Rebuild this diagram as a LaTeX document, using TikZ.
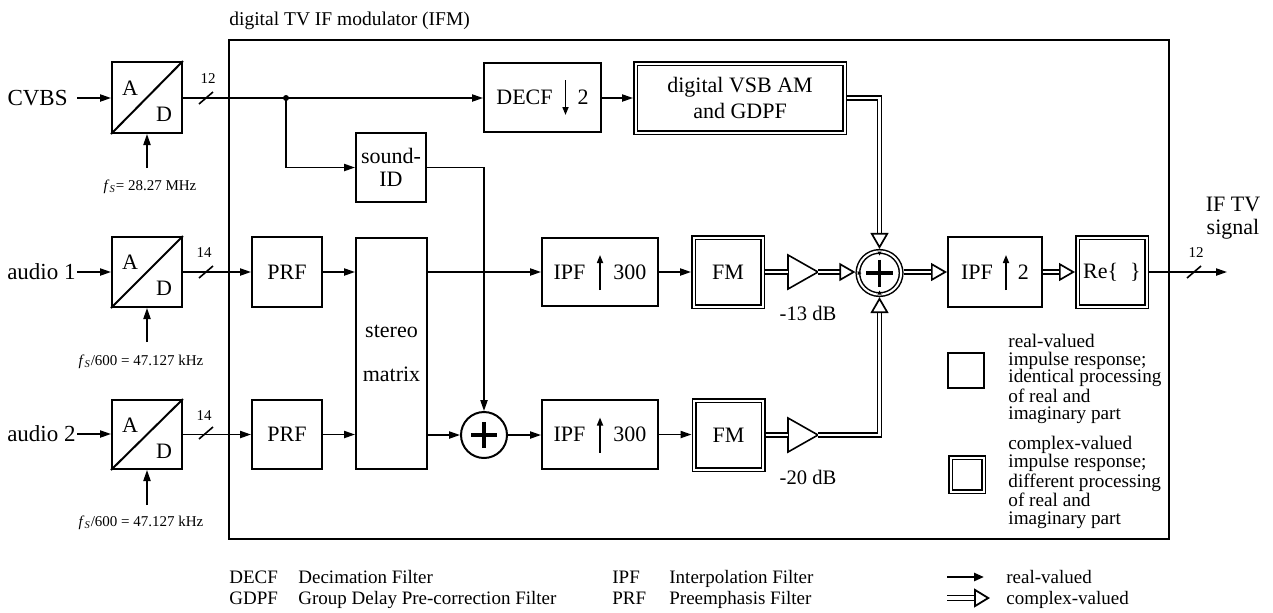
\documentclass[tikz,border=0pt]{standalone}
\usepackage{fontspec}
\setmainfont{Liberation Serif}
\usetikzlibrary{arrows.meta,calc}
\begin{document}
\begin{tikzpicture}[x=0.5pt,y=-0.5pt,
  blk/.style={draw,line width=1pt,inner sep=0pt,align=center,font=\fontsize{11}{13}\selectfont},
  dblk/.style={blk,double,double distance=1pt,line width=0.75pt,outer sep=1.25pt},
  sig/.style={line width=0.8pt,-{Triangle[length=5.5pt,width=3.6pt]}},
  plainline/.style={line width=0.8pt},
  cplx/.style={double,double distance=1.4pt,line width=0.75pt,-{Triangle[open,length=8pt,width=9pt,line width=0.85pt]}},
  cplxline/.style={double,double distance=1.4pt,line width=0.75pt},
  upar/.style={line width=0.8pt,-{Triangle[length=4pt,width=3pt]}},
  lab/.style={inner sep=0pt,font=\fontsize{11.5}{13}\selectfont},
  small/.style={inner sep=0pt,font=\fontsize{7.5}{9}\selectfont},
  legtxt/.style={inner sep=0pt,anchor=west,align=left,font=\fontsize{9.6}{8.75}\selectfont},
  bottxt/.style={inner sep=0pt,anchor=base west,font=\fontsize{9.5}{11}\selectfont},
  plus/.style={line width=1.6pt}
]
\useasboundingbox[fill=white] (0,0) rectangle (1273,612);

% outer box and title
\node[draw,line width=1pt,minimum width=470pt,minimum height=249.5pt,inner sep=0pt] (ifm) at (699,289.5) {};
\node[anchor=base west,inner sep=0pt,font=\fontsize{9.75}{11}\selectfont] (title) at (229,25) {digital TV IF modulator (IFM)};

% A/D converters
\node[blk,minimum width=35pt,minimum height=35.5pt] (ad1) at (147,97.5) {};
\node[blk,minimum width=35pt,minimum height=35pt] (ad2) at (147,272) {};
\node[blk,minimum width=35pt,minimum height=34.5pt] (ad3) at (147,434.5) {};
\foreach \n in {ad1,ad2,ad3}{
  \draw[line width=1pt] (\n.south west) -- (\n.north east);
  \node[blk,draw=none] (\n A) at ($(\n.center)+(-17,-9.5)$) {A};
  \node[blk,draw=none] (\n D) at ($(\n.center)+(17,16.5)$) {D};
}

% inputs
\node[lab,anchor=east,inner sep=4.5pt] (cvbs) at (77,98) {CVBS};
\node[lab,anchor=east,inner sep=0.5pt] (aud1) at (77,272) {audio 1};
\node[lab,anchor=east,inner sep=0.5pt] (aud2) at (77,434) {audio 2};
\draw[sig] (cvbs.east) -- (cvbs.east -| ad1.west);
\draw[sig] (aud1.east) -- (aud1.east -| ad2.west);
\draw[sig] (aud2.east) -- (aud2.east -| ad3.west);

% clocks
\coordinate (clk1) at (147,168);
\coordinate (clk2) at (147,342);
\coordinate (clk3) at (147,505);
\draw[sig] (clk1) -- (ad1.south);
\draw[sig] (clk2) -- (ad2.south);
\draw[sig] (clk3) -- (ad3.south);
\node[small] (fs1) at (150,187) {\textit{f}\textsubscript{\textit{S}}= 28.27 MHz};
\node[small] (fs2) at (141,362) {\textit{f}\textsubscript{\textit{S}}/600 = 47.127 kHz};
\node[small] (fs3) at (141,523) {\textit{f}\textsubscript{\textit{S}}/600 = 47.127 kHz};

% blocks
\node[blk,minimum width=58.5pt,minimum height=34.5pt] (decf) at (542.5,97.5) {DECF\hspace{12.5pt}2};
\node[dblk,minimum width=104.5pt,minimum height=34.5pt,font=\fontsize{11}{13}\selectfont] (vsb) at (740,98) {digital VSB AM\\and GDPF};
\node[blk,minimum width=35pt,minimum height=34.5pt,font=\fontsize{11}{11.5}\selectfont] (sid) at (391,167.5) {sound-\\ID};
\node[blk,minimum width=35pt,minimum height=35pt] (prf1) at (287,272) {PRF};
\node[blk,minimum width=35pt,minimum height=34.5pt] (prf2) at (287,434.5) {PRF};
\node[blk,minimum width=35.5pt,minimum height=115.5pt] (stm) at (391.5,353.5) {stereo\\[9pt]matrix};
\node[circle,draw,line width=1pt,minimum size=23pt,inner sep=0pt] (sum2) at (484,435) {};
\node[blk,minimum width=58pt,minimum height=34pt] (ipf1) at (600,272) {IPF\hspace{14pt}300};
\node[blk,minimum width=58pt,minimum height=34.5pt] (ipf2) at (600,434.5) {IPF\hspace{14pt}300};
\node[dblk,minimum width=34.5pt,minimum height=34.5pt] (fm1) at (728,272) {FM};
\node[dblk,minimum width=34.5pt,minimum height=34.5pt] (fm2) at (728.5,435) {FM};
\node[circle,draw,double,double distance=1pt,line width=0.75pt,minimum size=21.6pt,inner sep=0pt,outer sep=1.25pt] (sum1) at (879.5,273) {};
\node[blk,minimum width=47pt,minimum height=35pt] (ipf3) at (995,272) {IPF\hspace{12.5pt}2};
\node[dblk,minimum width=34.5pt,minimum height=34.5pt] (re) at (1112,272) {Re\{\hspace{6pt}\}};

% arrows inside filter blocks
\draw[upar] ($(decf.center)+(23,-17.5)$) -- ($(decf.center)+(23,17.5)$);
\draw[upar] ($(ipf1.center)+(0,18)$) -- ($(ipf1.center)+(0,-17)$);
\draw[upar] ($(ipf2.center)+(0,18)$) -- ($(ipf2.center)+(0,-17)$);
\draw[upar] ($(ipf3.center)+(11,18)$) -- ($(ipf3.center)+(11,-17)$);

% plus signs
\draw[plus] ($(sum2)+(-13,0)$) -- ($(sum2)+(13,0)$);
\draw[plus] ($(sum2)+(0,-13)$) -- ($(sum2)+(0,13)$);
\draw[plus] ($(sum1)+(-13.5,0)$) -- ($(sum1)+(13.5,0)$);
\draw[plus] ($(sum1)+(0,-13.5)$) -- ($(sum1)+(0,13.5)$);
\fill (877.5,251.5) -- (881.5,251.5) -- (879.5,255.5) -- cycle;
\fill (877.5,294.5) -- (881.5,294.5) -- (879.5,290.5) -- cycle;
\fill (857.5,271) -- (857.5,275) -- (861.5,273) -- cycle;

% amplifiers
\coordinate (amp1in) at (788,272);
\coordinate (amp1out) at (818,272);
\coordinate (amp2in) at (788,435);
\coordinate (amp2out) at (818,435);
\draw[line width=0.8pt] (788,255) -- (amp1out) -- (788,289) -- cycle;
\draw[line width=0.8pt] (788,418) -- (amp2out) -- (788,452) -- cycle;
\node[inner sep=0pt,font=\fontsize{10.3}{12}\selectfont] (g1) at (808,313) {-13 dB};
\node[inner sep=0pt,font=\fontsize{10.3}{12}\selectfont] (g2) at (808,477) {-20 dB};

% real-valued connections
\coordinate (j1) at (286,98);
\draw[sig] (ad1.east |- j1) -- (decf.west |- j1);
\fill (j1) circle (3);
\draw[sig] (j1) |- (sid.west);
\draw[sig] (sid.east) -| (sum2.north);
\draw[sig] (decf.east |- vsb.west) -- (vsb.west);
\draw[sig] (ad2.east) -- (prf1.west);
\draw[sig] (ad3.east) -- (prf2.west);
\draw[sig] (prf1.east) -- (prf1.east -| stm.west);
\draw[sig] (prf2.east) -- (prf2.east -| stm.west);
\draw[sig] (stm.east |- ipf1.west) -- (ipf1.west);
\draw[sig] (stm.east |- sum2.west) -- (sum2.west);
\draw[sig] (sum2.east) -- (sum2.east -| ipf2.west);
\draw[sig] (ipf1.east) -- (fm1.west);
\draw[sig] (ipf2.east) -- (ipf2.east -| fm2.west);

% complex-valued connections
\draw[cplx] (vsb.east) -| (sum1.north);
\draw[cplxline] (fm1.east) -- (amp1in);
\draw[cplx] (amp1out) -- (amp1out -| sum1.west);
\draw[cplxline] (fm2.east) -- (amp2in);
\draw[cplx] (amp2out) -| (sum1.south);
\draw[cplx] (sum1.east |- ipf3.west) -- (ipf3.west);
\draw[cplx] (ipf3.east) -- (re.west);

% output
\coordinate (out) at (1227,272);
\draw[sig] (re.east) -- (out);
\node[lab,align=center,font=\fontsize{11}{11.5}\selectfont] (iftv) at (1233,218) {IF TV\\signal};

% bus width marks
\draw[plainline] (199,104) -- (213,92);
\draw[plainline] (199,278) -- (213,266);
\draw[plainline] (199,439) -- (213,427);
\draw[plainline] (1187,278) -- (1201,266);
\node[small] (w1) at (208,79) {12};
\node[small] (w2) at (204,253) {14};
\node[small] (w3) at (204,416) {14};
\node[small] (w4) at (1196,253) {12};

% legend boxes
\node[draw,line width=1pt,minimum width=18pt,minimum height=17.5pt,inner sep=0pt] (leg1) at (966,370.5) {};
\node[draw,double,double distance=1pt,line width=0.75pt,minimum width=16.5pt,minimum height=17pt,inner sep=0pt] (leg2) at (967,474.5) {};
\node[legtxt] (leg1t) at (1008,379) {real-valued\\impulse response;\\identical processing\\of real and\\imaginary part};
\node[legtxt] (leg2t) at (1008,482.5) {complex-valued\\impulse response;\\different processing\\of real and\\imaginary part};

% bottom legend
\node[bottxt] (a1) at (229,583) {DECF};
\node[bottxt] (a2) at (298,583) {Decimation Filter};
\node[bottxt] (b1) at (229,604) {GDPF};
\node[bottxt] (b2) at (298,604) {Group Delay Pre-correction Filter};
\node[bottxt] (c1) at (612,583) {IPF};
\node[bottxt] (c2) at (669,583) {Interpolation Filter};
\node[bottxt] (d1) at (612,604) {PRF};
\node[bottxt] (d2) at (669,604) {Preemphasis Filter};
\coordinate (lr1) at (947,577);
\coordinate (lr2) at (984,577);
\coordinate (lc1) at (947,598);
\coordinate (lc2) at (990,598);
\draw[line width=1.2pt,-{Triangle[length=5pt,width=4pt]}] (lr1) -- (lr2);
\draw[double,double distance=1.6pt,line width=0.9pt,-{Triangle[open,length=8pt,width=9.5pt,line width=0.9pt]}] (lc1) -- (lc2);
\node[bottxt] (e1) at (1006,583) {real-valued};
\node[bottxt] (e2) at (1006,604) {complex-valued};
\end{tikzpicture}
\end{document}
